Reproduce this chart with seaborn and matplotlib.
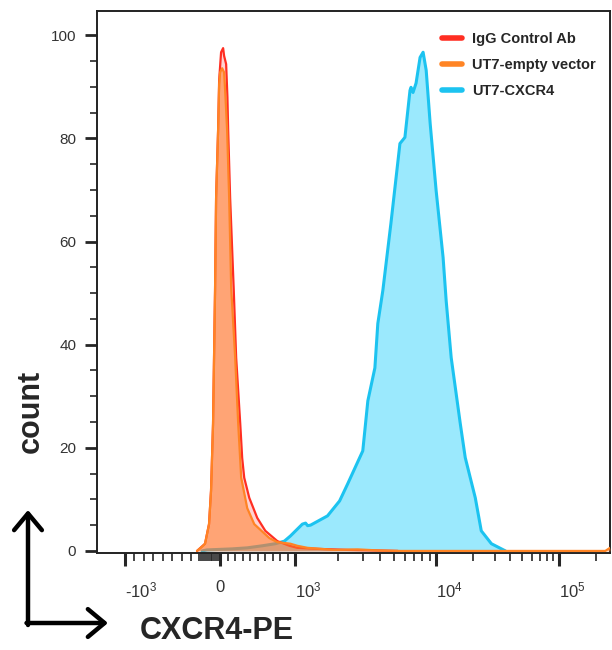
import numpy as np
import matplotlib
matplotlib.use("Agg")
import matplotlib.pyplot as plt
import seaborn as sns
from matplotlib.lines import Line2D

# histogram outlines (PE fluorescence, count as % of max)
igg_x = [-242, -158, -116, -95, -74, -53, -42, -21, -10, 13, 40, 53, 80, 97, 107, 133, 180,
         213, 267, 293, 320, 387, 493, 600, 760, 920, 1030, 1440, 2350, 5340]
igg_y = [0, 1.4, 5.2, 11.7, 24.7, 50.5, 68.5, 81.6, 91.3, 96.7, 97.5, 96.0, 94.4, 88.0, 81.6, 68.5, 51.0,
         37.5, 24.7, 18.0, 14.2, 10.3, 6.4, 3.9, 1.9, 1.0, 0.6, 0.4, 0.2, 0]

empty_x = [-242, -179, -158, -116, -95, -74, -53, -42, -21, -10, 0, 27, 53, 67, 93, 120, 147,
           200, 240, 280, 360, 453, 653, 760, 933, 1030, 1220, 1900, 2770, 3850, 5620, 240000, 262144]
empty_y = [0, 1.0, 1.4, 5.2, 11.7, 24.7, 50.5, 68.5, 81.6, 90.5, 92.8, 93.6, 92.8, 89.3, 81.6, 68.5, 51.0,
           37.5, 24.7, 14.2, 8.3, 5.2, 2.5, 1.7, 1.4, 1.0, 0.6, 0.2, 0.3, 0.1, 0, 0, 0.6]

cxcr4_x = [-189, -137, 160, 360, 560, 733, 853, 933, 1120, 1180, 1220, 1280, 1690, 2060, 2350,
           3010, 3270, 3670, 3850, 4180, 4770, 5530, 6000, 6520, 6630, 6850, 7200, 7690, 8080,
           8500, 9070, 10000, 11400, 12080, 13270, 15740, 17280, 20870, 23350, 28250, 36800]
cxcr4_y = [0, 0.2, 0.4, 0.6, 1.0, 1.4, 1.9, 2.9, 5.2, 5.4, 4.9, 5.0, 6.8, 9.7, 13.0,
           19.4, 29.1, 35.5, 44.1, 50.5, 63.5, 79.0, 80.2, 89.3, 89.9, 88.9, 90.7, 95.7, 96.7,
           93.2, 82.9, 69.9, 56.9, 48.5, 37.5, 24.7, 18.1, 10.3, 3.9, 1.4, 0]

labels = ["IgG Control Ab", "UT7-empty vector", "UT7-CXCR4"]
line_colors = ["#FF2E22", "#FF8424", "#1CC3F0"]
y_ticks = [0, 20, 40, 60, 80, 100]
x_ticks = [-1e3, 0, 1e3, 1e4, 1e5]
x_tick_labels = ["-$\\mathregular{10^{3}}$", "0", "$\\mathregular{10^{3}}$",
                 "$\\mathregular{10^{4}}$", "$\\mathregular{10^{5}}$"]

# biexponential-like display: linear around zero, log above 10^3
H_ANCHORS = [-10, -1, 0, 1, 2, 3, 10]
P_ANCHORS = [-632, 128, 223, 298, 438, 560, 1414]


def to_h(v):
    v = np.asarray(v, dtype=float)
    return np.where(v <= 1000, v / 1000, 1 + np.log10(np.maximum(v, 1000) / 1000))


def forward(v):
    return np.interp(to_h(v), H_ANCHORS, P_ANCHORS)


def inverse(p):
    h = np.interp(np.asarray(p, dtype=float), P_ANCHORS, H_ANCHORS)
    return np.where(h <= 1, h * 1000, 1000 * 10 ** (np.maximum(h, 1) - 1))


sns.set_theme(style="ticks")
plt.rcParams["font.family"] = ["Liberation Sans Narrow", "Liberation Sans", "DejaVu Sans"]
plt.rcParams["mathtext.fontset"] = "custom"
plt.rcParams["mathtext.rm"] = "Liberation Sans"

fig = plt.figure(figsize=(6.12, 6.5), dpi=100)
ax = fig.add_axes([97 / 612, 97 / 650, 513 / 612, 542 / 650])
ax.set_xscale("function", functions=(forward, inverse))

# CXCR4 first, controls on top
ax.fill_between(cxcr4_x, cxcr4_y, color="#9BE9FD", lw=0, zorder=1)
sns.lineplot(x=cxcr4_x, y=cxcr4_y, color=line_colors[2], lw=2.2, sort=False,
             estimator=None, ax=ax, zorder=2)
ax.fill_between(igg_x, igg_y, color="#FF4D4D", alpha=0.25, lw=0, zorder=3)
sns.lineplot(x=igg_x, y=igg_y, color=line_colors[0], lw=1.6, sort=False,
             estimator=None, ax=ax, zorder=4)
ax.fill_between(empty_x, empty_y, color="#FF7F2A", alpha=0.55, lw=0, zorder=5)
sns.lineplot(x=empty_x, y=empty_y, color=line_colors[1], lw=1.6, sort=False,
             estimator=None, ax=ax, zorder=6)

ax.set_xlim(-1326, 262144)
ax.set_ylim(-0.4, 104.7)

ax.set_yticks(y_ticks)
ax.set_yticks([v for v in range(5, 105, 5) if v % 20], minor=True)
ax.set_xticks(x_ticks, x_tick_labels)
minor_x = (list(np.arange(-900, -200, 100)) + list(np.arange(-220, 0, 20))
           + list(np.arange(100, 1000, 100)) + list(np.arange(2e3, 1e4, 1e3))
           + list(np.arange(2e4, 1e5, 1e4)) + [2e5])
ax.set_xticks(minor_x, minor=True)
for lbl in ax.get_xticklabels():
    lbl.set_horizontalalignment("center" if lbl.get_text() == "0" else "left")

ax.tick_params(axis="y", which="major", length=9, width=2, pad=6, labelsize=11,
               labelcolor="#333333")
ax.tick_params(axis="y", which="minor", length=5, width=1.2)
ax.tick_params(axis="x", which="major", length=9.5, width=2.2, pad=10, labelsize=12,
               labelcolor="#333333")
ax.tick_params(axis="x", which="minor", length=6, width=1.2)
for side in ["left", "bottom", "top", "right"]:
    ax.spines[side].set_linewidth(1.4)
    ax.spines[side].set_color("#222222")
ax.set_xlabel("")
ax.set_ylabel("")
ax.grid(False)

handles = [Line2D([], [], color=c, lw=4) for c in line_colors]
fig.legend(handles, labels, loc="upper left", bbox_to_anchor=(442 / 612, 1 - 32 / 650),
           frameon=False, borderpad=0, borderaxespad=0, handlelength=1.37,
           handletextpad=0.68, labelspacing=0.82,
           prop=dict(family="Liberation Sans", weight="bold", size=10.5))

fig.text(31 / 612, 1 - 411 / 650, "count", rotation=90, ha="center", va="center",
         fontsize=22, fontweight="bold", family="Liberation Sans")
fig.text(217 / 612, 1 - 631 / 650, "CXCR4-PE", ha="center", va="center",
         fontsize=22, fontweight="bold", family="Liberation Sans")

arrow = dict(arrowstyle="->,head_length=0.6,head_width=0.5", lw=3.2, color="black",
             shrinkA=0, shrinkB=0, mutation_scale=20)
ax.annotate("", xy=(28, 140), xytext=(28, 25), xycoords="figure pixels",
            textcoords="figure pixels", arrowprops=arrow, annotation_clip=False)
ax.annotate("", xy=(108, 27), xytext=(26.5, 27), xycoords="figure pixels",
            textcoords="figure pixels", arrowprops=arrow, annotation_clip=False)

fig.savefig("out.png", dpi=100)
